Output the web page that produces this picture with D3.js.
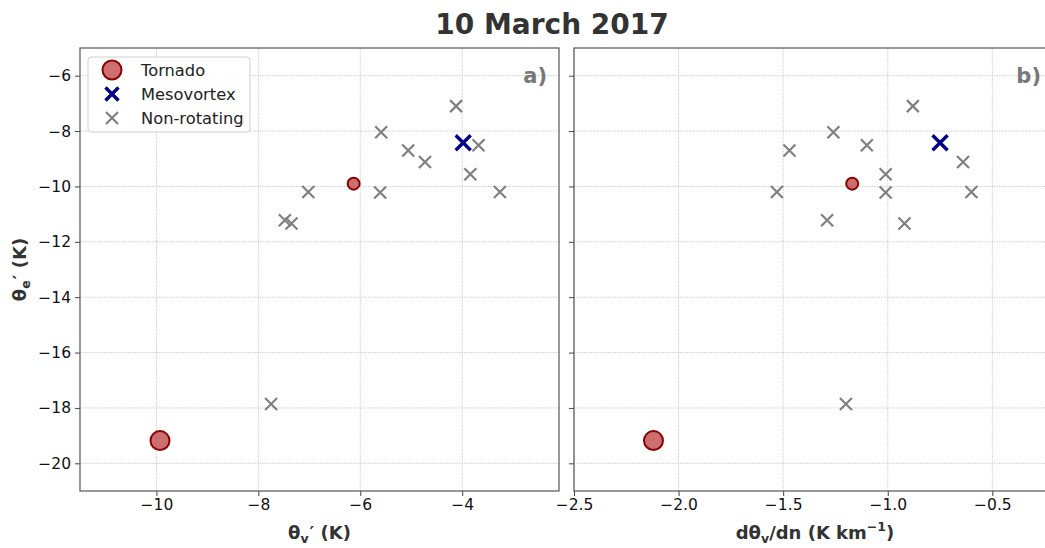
<!DOCTYPE html>
<html>
<head>
<meta charset="utf-8">
<script src="https://cdn.jsdelivr.net/npm/d3@7"></script>
<style>
  body { margin: 0; background: #fff; }
  svg { font-family: "DejaVu Sans", sans-serif; }
  .domain { display: none; }
</style>
</head>
<body>
<svg id="chart" width="1045" height="548"></svg>
<script>
// ---- data ----
// shared y: theta_e' (K)
var tornadoThetaE = [-9.90, -19.18];
var mesoThetaE    = [-8.42];
var nonRotThetaE  = [-7.10, -8.04, -8.70, -9.12, -8.51, -9.56, -10.20, -10.22, -10.20, -11.22, -11.34, -17.86];
// panel a: theta_v' (K)
var tornadoThetaV = [-6.13, -9.93];
var mesoThetaV    = [-3.98];
var nonRotThetaV  = [-4.12, -5.59, -5.06, -4.73, -3.68, -3.84, -3.26, -5.61, -7.02, -7.48, -7.35, -7.75];
// panel b: d theta_v / dn (K km-1)
var tornadoGrad = [-1.17, -2.12];
var mesoGrad    = [-0.75];
var nonRotGrad  = [-0.88, -1.26, -1.47, -0.64, -1.10, -1.01, -0.60, -1.01, -1.53, -1.29, -0.92, -1.20];
// tornado marker sizes (small / big)
var tornadoRadius = [6, 9.5];

var yTicks  = [-20, -18, -16, -14, -12, -10, -8, -6];
var xTicksA = [-10, -8, -6, -4];
var xTicksB = [-2.5, -2.0, -1.5, -1.0, -0.5];

var svg = d3.select("#chart");
var top_ = 48, bottom = 491, plotW = 479;
var leftA = 80, leftB = 574;

var y = d3.scaleLinear().domain([-21, -5]).range([bottom, top_]);
var xA = d3.scaleLinear().domain([-11.5, -2.1]).range([leftA, leftA + plotW]);
var xB = d3.scaleLinear().domain([-2.5, -0.21]).range([leftB, leftB + plotW]);

var minus = function(v, fmt) { return fmt(v).replace("-", "\u2212"); };

function xPath(s) {
  return "M" + (-s) + "," + (-s) + "L" + s + "," + s + "M" + (-s) + "," + s + "L" + s + "," + (-s);
}

function styleAxis(ax) {
  ax.selectAll(".tick text").style("font-size", "15.5px").style("fill", "#111")
    .style("font-family", "DejaVu Sans, sans-serif");
  ax.selectAll(".tick line").style("stroke", "#444");
}

function panel(x, xTicks, xfmt, tv, mv, nv, label, showY) {
  var g = svg.append("g");
  var x0 = x.range()[0], x1 = x.range()[1];

  g.append("clipPath").attr("id", "clip" + label)
    .append("rect").attr("x", x0).attr("y", top_).attr("width", x1 - x0).attr("height", bottom - top_);

  // grid
  g.selectAll(".gx").data(xTicks).enter().append("line")
    .attr("x1", d => x(d)).attr("x2", d => x(d)).attr("y1", top_).attr("y2", bottom)
    .attr("stroke", "#c8c8c8").attr("stroke-dasharray", "1.2,1.2");
  g.selectAll(".gy").data(yTicks).enter().append("line")
    .attr("x1", x0).attr("x2", x1).attr("y1", d => y(d)).attr("y2", d => y(d))
    .attr("stroke", "#c8c8c8").attr("stroke-dasharray", "1.2,1.2");

  // axes
  var ax = g.append("g").attr("transform", "translate(0," + bottom + ")")
    .call(d3.axisBottom(x).tickValues(xTicks).tickSize(5).tickPadding(3)
      .tickFormat(d => minus(d, xfmt)));
  styleAxis(ax);
  var ay = g.append("g").attr("transform", "translate(" + x0 + ",0)")
    .call(d3.axisLeft(y).tickValues(yTicks).tickSize(5).tickPadding(4)
      .tickFormat(d => showY ? minus(d, d3.format("d")) : ""));
  styleAxis(ay);

  // frame
  g.append("rect").attr("x", x0).attr("y", top_).attr("width", x1 - x0).attr("height", bottom - top_)
    .attr("fill", "none").attr("stroke", "#555").attr("stroke-width", 1.2);

  var pts = g.append("g").attr("clip-path", "url(#clip" + label + ")");

  // non-rotating
  pts.selectAll(".nr").data(nv).enter().append("path")
    .attr("d", xPath(6))
    .attr("transform", (d, i) => "translate(" + x(d) + "," + y(nonRotThetaE[i]) + ")")
    .attr("stroke", "#808080").attr("stroke-width", 2.2).attr("fill", "none");

  // mesovortex
  pts.selectAll(".mv").data(mv).enter().append("path")
    .attr("d", xPath(7.5))
    .attr("transform", (d, i) => "translate(" + x(d) + "," + y(mesoThetaE[i]) + ")")
    .attr("stroke", "#00008b").attr("stroke-width", 3.4).attr("fill", "none");

  // tornado
  pts.selectAll(".tn").data(tv).enter().append("circle")
    .attr("cx", d => x(d)).attr("cy", (d, i) => y(tornadoThetaE[i]))
    .attr("r", (d, i) => tornadoRadius[i])
    .attr("fill", "rgba(178,34,34,0.65)").attr("stroke", "#8b0000").attr("stroke-width", 2);

  // panel letter
  g.append("text").attr("x", x1 - 12).attr("y", y(-6) + 7)
    .attr("text-anchor", "end").attr("font-size", 21).attr("font-weight", "bold")
    .attr("fill", "#777").text(label + ")");
}

panel(xA, xTicksA, d3.format("d"), tornadoThetaV, mesoThetaV, nonRotThetaV, "a", true);
panel(xB, xTicksB, d3.format(".1f"), tornadoGrad, mesoGrad, nonRotGrad, "b", false);

// title
svg.append("text").attr("x", 552).attr("y", 34).attr("text-anchor", "middle")
  .attr("font-size", 28).attr("font-weight", "bold").attr("fill", "#333")
  .text("10 March 2017");

// x labels
var xlA = svg.append("text").attr("x", (xA.range()[0] + xA.range()[1]) / 2).attr("y", 539)
  .attr("text-anchor", "middle").attr("font-size", 18).attr("font-weight", "bold").attr("fill", "#333");
xlA.append("tspan").text("\u03b8");
xlA.append("tspan").attr("font-size", 12.5).attr("dy", 4).text("v");
xlA.append("tspan").attr("dy", -4).attr("dx", 1).text("\u2032 (K)");

var xlB = svg.append("text").attr("x", 815).attr("y", 539)
  .attr("text-anchor", "middle").attr("font-size", 18).attr("font-weight", "bold").attr("fill", "#333");
xlB.append("tspan").text("d\u03b8");
xlB.append("tspan").attr("font-size", 12.5).attr("dy", 4).text("v");
xlB.append("tspan").attr("dy", -4).text("/dn (K km");
xlB.append("tspan").attr("font-size", 12.5).attr("dy", -8).text("\u22121");
xlB.append("tspan").attr("dy", 8).text(")");

// y label
var yl = svg.append("text").attr("transform", "translate(26," + ((top_ + bottom) / 2) + ") rotate(-90)")
  .attr("text-anchor", "middle").attr("font-size", 18).attr("font-weight", "bold").attr("fill", "#333");
yl.append("tspan").text("\u03b8");
yl.append("tspan").attr("font-size", 12.5).attr("dy", 4).text("e");
yl.append("tspan").attr("dy", -4).attr("dx", 1).text("\u2032 (K)");

// legend
var leg = svg.append("g");
leg.append("rect").attr("x", 88).attr("y", 57).attr("width", 162).attr("height", 75).attr("rx", 3)
  .attr("fill", "rgba(255,255,255,0.85)").attr("stroke", "#d0d0d0");
var legItems = ["Tornado", "Mesovortex", "Non-rotating"];
var legY = d3.scalePoint().domain(legItems).range([70, 118]);
leg.append("circle").attr("cx", 112).attr("cy", legY("Tornado")).attr("r", 9.5)
  .attr("fill", "rgba(178,34,34,0.65)").attr("stroke", "#8b0000").attr("stroke-width", 2);
leg.append("path").attr("d", xPath(6.5)).attr("transform", "translate(112," + legY("Mesovortex") + ")")
  .attr("stroke", "#00008b").attr("stroke-width", 3.4).attr("fill", "none");
leg.append("path").attr("d", xPath(6)).attr("transform", "translate(112," + legY("Non-rotating") + ")")
  .attr("stroke", "#808080").attr("stroke-width", 2.2).attr("fill", "none");
leg.selectAll(".lt").data(legItems).enter().append("text")
  .attr("x", 141).attr("y", d => legY(d) + 6).attr("font-size", 16.3).attr("fill", "#222")
  .text(d => d);
</script>
</body>
</html>
